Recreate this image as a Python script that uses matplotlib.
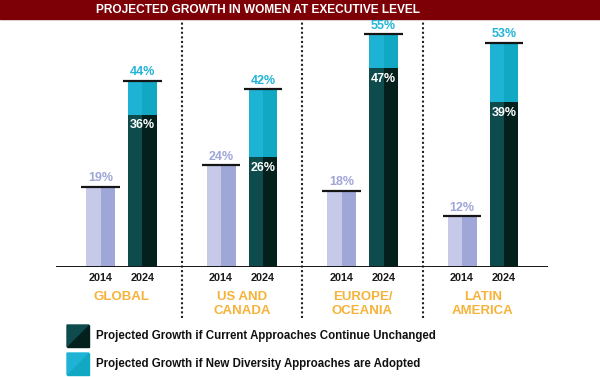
import matplotlib
matplotlib.use("Agg")
import matplotlib.pyplot as plt
from matplotlib.patches import Polygon, Rectangle

# data
regions = ["GLOBAL", "US AND\nCANADA", "EUROPE/\nOCEANIA", "LATIN\nAMERICA"]
years = ["2014", "2024"]
val_2014 = [19, 24, 18, 12]
val_current = [36, 26, 47, 39]
val_new = [44, 42, 55, 53]

lav_l, lav_r = "#c6c9e8", "#9fa6d8"
dk_l, dk_r = "#0d4b4c", "#04201d"
cy_l, cy_r = "#1eb3d4", "#10a8c2"
orange = "#f6b33a"
font = "Liberation Sans"

fig = plt.figure(figsize=(6, 3.77), dpi=100)

# title banner
fig.add_artist(Rectangle((0, 1 - 19 / 377), 1, 19 / 377, transform=fig.transFigure,
                         color="#7c0005", zorder=0))
fig.text(258 / 600, 1 - 10 / 377, "PROJECTED GROWTH IN WOMEN AT EXECUTIVE LEVEL",
         ha="center", va="center", color="white", fontsize=8.6,
         fontweight="bold", family=font)

ax = fig.add_axes([56 / 600, 110 / 377, 492 / 600, 253.8 / 377])
ax.set_xlim(-0.5436, 3.539)
ax.set_ylim(0, 60)
ax.axis("off")

off = 0.174   # offset of each year's bar from group center
w = 0.24      # bar width
hw = w / 2

for i in range(len(regions)):
    x14 = i - off
    x24 = i + off
    # 2014 bar
    ax.bar(x14 - hw / 2, val_2014[i], hw, color=lav_l, zorder=2)
    ax.bar(x14 + hw / 2, val_2014[i], hw, color=lav_r, zorder=2)
    # 2024 current approaches
    ax.bar(x24 - hw / 2, val_current[i], hw, color=dk_l, zorder=2)
    ax.bar(x24 + hw / 2, val_current[i], hw, color=dk_r, zorder=2)
    # 2024 new approaches on top
    ax.bar(x24 - hw / 2, val_new[i] - val_current[i], hw, bottom=val_current[i], color=cy_l, zorder=2)
    ax.bar(x24 + hw / 2, val_new[i] - val_current[i], hw, bottom=val_current[i], color=cy_r, zorder=2)
    # cap lines
    for xc, v in ((x14, val_2014[i]), (x24, val_new[i])):
        ax.plot([xc - w / 2 - 0.04, xc + w / 2 + 0.04], [v, v], color="#151515", lw=1.6,
                solid_capstyle="butt", zorder=3)
    # value labels
    ax.text(x14, val_2014[i] + 2.0, f"{val_2014[i]}%", ha="center", va="center",
            color=lav_r, fontsize=9, fontweight="bold", family=font)
    ax.text(x24, val_new[i] + 2.0, f"{val_new[i]}%", ha="center", va="center",
            color="#22b4d8", fontsize=9, fontweight="bold", family=font)
    ax.text(x24, val_current[i] - 2.5, f"{val_current[i]}%", ha="center", va="center",
            color="white", fontsize=9, fontweight="bold", family=font)
    # year labels
    for xc, yr in ((x14, years[0]), (x24, years[1])):
        ax.text(xc, -2.5, yr, ha="center", va="center", color="#1a1a1a",
                fontsize=7.8, fontweight="bold", family=font, clip_on=False)
    # region label
    ax.text(i, -5.6, regions[i], ha="center", va="top", color=orange, fontsize=9.5,
            fontweight="bold", family=font, linespacing=1.25, clip_on=False)

# baseline
ax.axhline(0, color="#151515", lw=1.4, zorder=4)

# dotted dividers
for xd in (0.5, 1.5, 2.5):
    ax.plot([xd, xd], [-12.1, 57.9], color="#222222", lw=1.5, ls=(0, (1.0, 1.2)),
            clip_on=False, zorder=1)

# legend squares with diagonal split
def legend_square(x0, y0, s, c1, c2):
    fx = lambda px: px / 600
    fy = lambda py: 1 - py / 377
    fig.add_artist(Polygon([(fx(x0), fy(y0)), (fx(x0 + s), fy(y0)), (fx(x0), fy(y0 + s))],
                           closed=True, color=c1, transform=fig.transFigure))
    fig.add_artist(Polygon([(fx(x0 + s), fy(y0)), (fx(x0 + s), fy(y0 + s)), (fx(x0), fy(y0 + s))],
                           closed=True, color=c2, transform=fig.transFigure))

legend_square(67, 325, 22, dk_l, dk_r)
legend_square(67, 353, 22, cy_l, cy_r)
fig.text(96 / 600, 1 - 336 / 377, "Projected Growth if Current Approaches Continue Unchanged",
         ha="left", va="center", fontsize=8.3, fontweight="bold", color="#111111",
         family=font)
fig.text(96 / 600, 1 - 364 / 377, "Projected Growth if New Diversity Approaches are Adopted",
         ha="left", va="center", fontsize=8.3, fontweight="bold", color="#111111",
         family=font)

fig.savefig("out.png", dpi=100)
